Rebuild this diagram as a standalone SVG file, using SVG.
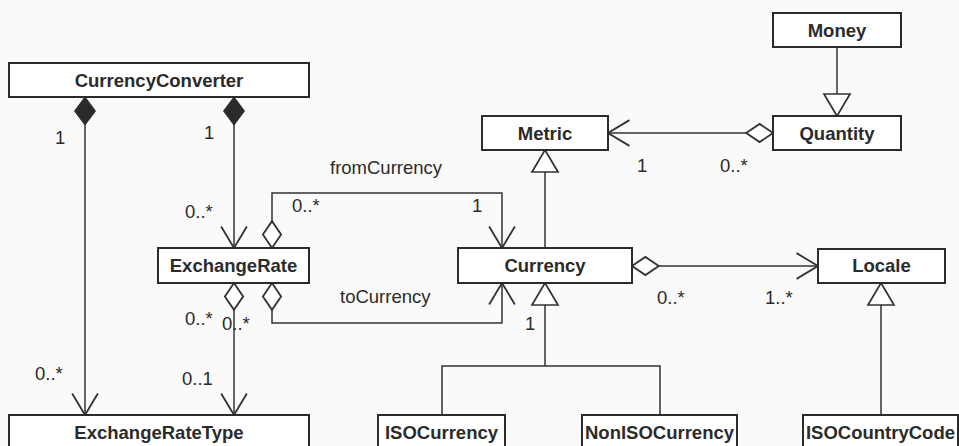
<svg xmlns="http://www.w3.org/2000/svg" width="959" height="446" viewBox="0 0 959 446">
<style>
.bg{fill:#fafafa}
.box{fill:#ffffff;stroke:#2b2b2b;stroke-width:2}
.name{font-family:"Liberation Sans",Arial,sans-serif;font-weight:bold;font-size:18.5px;fill:#2b2b2b;text-anchor:middle}
.lbl{font-family:"Liberation Sans",Arial,sans-serif;font-size:18.5px;fill:#2b2b2b}
.ln{fill:none;stroke:#333;stroke-width:1.5}
</style>
<defs>
<marker id="open" markerUnits="userSpaceOnUse" markerWidth="30" markerHeight="30" viewBox="-22 -14 24 28" refX="0" refY="0" orient="auto" overflow="visible">
<path d="M-20,-12 L0,0 L-20,12" fill="none" stroke="#333" stroke-width="1.7"/>
</marker>
<marker id="tri" markerUnits="userSpaceOnUse" markerWidth="30" markerHeight="30" viewBox="-24 -15 26 30" refX="0" refY="0" orient="auto" overflow="visible">
<path d="M0,0 L-22,-13 L-22,13 Z" fill="#fff" stroke="#333" stroke-width="1.7"/>
</marker>
<marker id="dia" markerUnits="userSpaceOnUse" markerWidth="30" markerHeight="30" viewBox="-1 -10 28 20" refX="0" refY="0" orient="auto" overflow="visible">
<path d="M0,0 L12.5,-8.5 L25,0 L12.5,8.5 Z" fill="#fff" stroke="#333" stroke-width="1.7"/>
</marker>
<marker id="fdia" markerUnits="userSpaceOnUse" markerWidth="30" markerHeight="30" viewBox="-1 -11 29 22" refX="0" refY="0" orient="auto" overflow="visible">
<path d="M0,0 L13.5,-10 L27,0 L13.5,10 Z" fill="#2b2b2b" stroke="#2b2b2b" stroke-width="1"/>
</marker>
</defs>
<rect class="bg" x="0" y="0" width="959" height="446"/>

<g id="connectors">
<path class="ln" d="M85,97 L85,415" marker-start="url(#fdia)" marker-end="url(#open)"/>
<path class="ln" d="M234,97 L234,248" marker-start="url(#fdia)" marker-end="url(#open)"/>
<path class="ln" d="M234,283 L234,415" marker-start="url(#dia)" marker-end="url(#open)"/>
<path class="ln" d="M272,248 L272,193 L502,193 L502,248" marker-start="url(#dia)" marker-end="url(#open)"/>
<path class="ln" d="M272,283 L272,323 L502,323 L502,283" marker-start="url(#dia)" marker-end="url(#open)"/>
<path class="ln" d="M545,248 L545,150" marker-end="url(#tri)"/>
<path class="ln" d="M545,366 L545,283" marker-end="url(#tri)"/>
<path class="ln" d="M442,415 L442,366 L660,366 L660,415"/>
<path class="ln" d="M632,266 L818,266" marker-start="url(#dia)" marker-end="url(#open)"/>
<path class="ln" d="M881,415 L881,283" marker-end="url(#tri)"/>
<path class="ln" d="M837,47 L837,116" marker-end="url(#tri)"/>
<path class="ln" d="M773,133 L608,133" marker-start="url(#dia)" marker-end="url(#open)"/>
</g>

<g id="labels">
<text class="lbl" x="55" y="144">1</text>
<text class="lbl" x="204" y="139">1</text>
<text class="lbl" x="185" y="218">0..*</text>
<text class="lbl" x="35" y="380">0..*</text>
<text class="lbl" x="185" y="325">0..*</text>
<text class="lbl" x="222" y="330">0..*</text>
<text class="lbl" x="182" y="385">0..1</text>
<text class="lbl" x="330" y="174">fromCurrency</text>
<text class="lbl" x="292" y="212">0..*</text>
<text class="lbl" x="472" y="212">1</text>
<text class="lbl" x="340" y="303">toCurrency</text>
<text class="lbl" x="525" y="330">1</text>
<text class="lbl" x="657" y="304">0..*</text>
<text class="lbl" x="765" y="304">1..*</text>
<text class="lbl" x="637" y="172">1</text>
<text class="lbl" x="720" y="172">0..*</text>
</g>

<g id="CurrencyConverter"><rect class="box" x="9" y="63" width="300" height="34"/><text class="name" x="159" y="86.5">CurrencyConverter</text></g>
<g id="ExchangeRate"><rect class="box" x="158" y="248" width="151" height="35"/><text class="name" x="233.5" y="271.5">ExchangeRate</text></g>
<g id="ExchangeRateType"><rect class="box" x="9" y="415" width="300" height="40"/><text class="name" x="159" y="438.5">ExchangeRateType</text></g>
<g id="Metric"><rect class="box" x="482" y="116" width="126" height="34"/><text class="name" x="545" y="139.5">Metric</text></g>
<g id="Currency"><rect class="box" x="458" y="248" width="174" height="35"/><text class="name" x="545" y="271.5">Currency</text></g>
<g id="Locale"><rect class="box" x="818" y="249" width="127" height="34"/><text class="name" x="881.5" y="272">Locale</text></g>
<g id="Money"><rect class="box" x="773" y="13" width="128" height="34"/><text class="name" x="837" y="36.5">Money</text></g>
<g id="Quantity"><rect class="box" x="773" y="116" width="128" height="34"/><text class="name" x="837" y="139.5">Quantity</text></g>
<g id="ISOCurrency"><rect class="box" x="378" y="415" width="127" height="40"/><text class="name" x="441.5" y="438.5">ISOCurrency</text></g>
<g id="NonISOCurrency"><rect class="box" x="582" y="415" width="155" height="40"/><text class="name" x="659.5" y="438.5">NonISOCurrency</text></g>
<g id="ISOCountryCode"><rect class="box" x="803" y="415" width="155" height="40"/><text class="name" x="880.5" y="438.5">ISOCountryCode</text></g>
</svg>
